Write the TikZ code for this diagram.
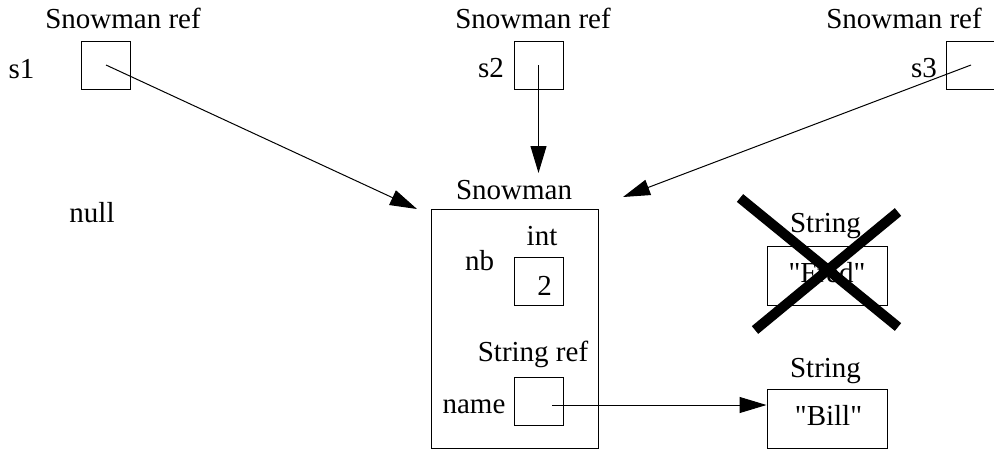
\documentclass[tikz,border=0pt]{standalone}
\usepackage{fontspec}
\setmainfont{Liberation Serif}[Ligatures=TeXOff]
\usetikzlibrary{arrows.meta}
\tikzset{
  refbox/.style={draw,minimum width=24.5pt,minimum height=24pt,inner sep=0pt},
  strbox/.style={draw,minimum width=60pt,minimum height=29.5pt,inner sep=0pt},
  lab/.style={anchor=base,inner sep=0pt},
  ptr/.style={-{Triangle[length=13.5pt,width=8pt]}},
  cross/.style={line width=5pt}
}
\begin{document}
\begin{tikzpicture}[x=0.5pt,y=-0.5pt,line width=0.5pt,font=\fontsize{14.5}{17}\selectfont]
\useasboundingbox (0,0) rectangle (994,450);
% the three references
\node[refbox] (s1) at (106,65) {};
\node[refbox] (s2) at (538.5,65) {};
\node[refbox] (s3) at (971,65) {};
\path
(123,28) node[lab] (t1) {Snowman ref}
(533,28) node[lab] (t2) {Snowman ref}
(904,28) node[lab] (t3) {Snowman ref}
(21.5,78) node[lab] (n1) {s1}
(491,77) node[lab] (n2) {s2}
(924,77) node[lab] (n3) {s3}
(92,222) node[lab] (null) {null}
;
% the Snowman object
\node[draw,minimum width=83.5pt,minimum height=119.5pt,inner sep=0pt] (obj) at (514.5,328.5) {};
\node[refbox] (nb) at (538.5,281) {};
\node[refbox] (name) at (538.5,401.5) {};
\path
(514,199) node[lab] (objt) {Snowman}
(542,245) node[lab] (intt) {int}
(479.5,270) node[lab] (nbl) {nb}
(544.5,295) node[lab] (two) {2}
(533,361) node[lab] (strt) {String ref}
(474,413) node[lab] (namel) {name}
;
% the strings
\node[strbox] (fred) at (827,275.5) {};
\node[strbox] (bill) at (827,418.5) {};
\path
(825.5,232) node[lab] (fredt) {String}
(827,282) node[lab] (fredv) {"Fred"}
(825.5,377) node[lab] (billt) {String}
(828.5,425) node[lab] (billv) {"Bill"}
;
\coordinate (tip1) at (417,209);
\coordinate (tip2) at (538.5,173);
\coordinate (tip3) at (623,197);
\coordinate (nm) at (552,405);
\draw[ptr] (s1.center)--(tip1);
\draw[ptr] (s2.center)--(tip2);
\draw[ptr] (s3.center)--(tip3);
\draw[ptr] (nm)--(nm -| bill.west);
% cross over "Fred"
\draw[cross] (740,198)--(898,327);
\draw[cross] (898,212)--(755,330);
\end{tikzpicture}
\end{document}
